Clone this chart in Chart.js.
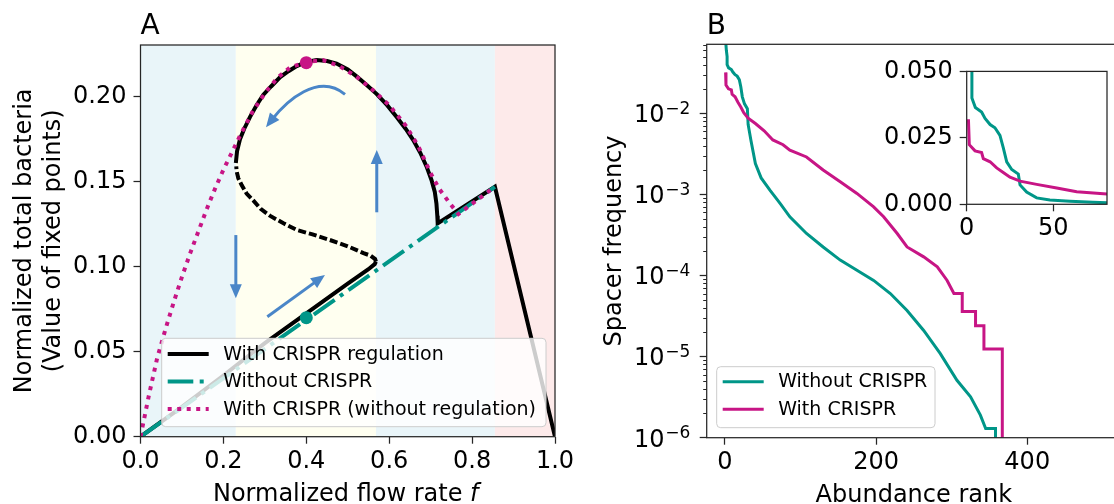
<!DOCTYPE html>
<html>
<head>
<meta charset="utf-8">
<script src="https://cdn.jsdelivr.net/npm/chart.js@4.4.1/dist/chart.umd.min.js"></script>
<style>
  html, body { margin: 0; padding: 0; background: #fff; overflow: hidden; width: 1114px; height: 504px; }
  canvas { position: absolute; }
  #chartA { left: 0; top: 0; width: 580px; height: 504px; }
  #chartB { left: 580px; top: 0; width: 545px; height: 504px; }
  #chartInset { left: 870px; top: 50px; width: 244px; height: 200px; }
</style>
</head>
<body>
<canvas id="chartA" width="580" height="504"></canvas>
<canvas id="chartB" width="545" height="504"></canvas>
<canvas id="chartInset" width="244" height="200"></canvas>
<script>
// ---------- Panel A: fixed points vs flow rate ----------
const bandEdges = [0, 0.23, 0.568, 0.855, 1.0];
const bandColors = ['#e9f5f9', '#fffff0', '#e9f5f9', '#fdeaea'];

// stable lower branch (with regulation)
const lowerF = [0, 0.1, 0.2, 0.3, 0.4, 0.5, 0.55, 0.565, 0.568];
const lowerV = [0, 0.0175, 0.036, 0.055, 0.0725, 0.090, 0.0985, 0.1015, 0.103];

// unstable middle branch (dashed)
const unstableF = [0.568, 0.566, 0.555, 0.538, 0.500, 0.457, 0.415, 0.377, 0.345, 0.312, 0.290, 0.272, 0.256, 0.244, 0.236, 0.232, 0.231];
const unstableV = [0.103, 0.1045, 0.1065, 0.108, 0.112, 0.1157, 0.119, 0.1216, 0.1255, 0.130, 0.134, 0.139, 0.143, 0.148, 0.152, 0.156, 0.159];

// stable upper branch, then washout
const upperF = [0.230, 0.233, 0.240, 0.250, 0.264, 0.280, 0.296, 0.315, 0.337, 0.357, 0.377, 0.400, 0.425, 0.450, 0.473, 0.500, 0.522, 0.545, 0.570, 0.595, 0.618, 0.640, 0.658, 0.675, 0.690, 0.702, 0.710, 0.714, 0.716, 0.717, 0.855, 1.0];
const upperV = [0.161, 0.168, 0.175, 0.181, 0.188, 0.195, 0.201, 0.206, 0.2115, 0.215, 0.218, 0.2205, 0.2215, 0.221, 0.2195, 0.216, 0.2118, 0.207, 0.2015, 0.195, 0.188, 0.181, 0.1745, 0.167, 0.159, 0.151, 0.144, 0.137, 0.130, 0.1255, 0.147, 0];

// without CRISPR
const noCrisprF = [0, 0.855];
const noCrisprV = [0, 0.147];

// with CRISPR, no regulation
const noRegF = [0, 0.02, 0.04, 0.06, 0.08, 0.10, 0.12, 0.14, 0.16, 0.18, 0.20, 0.22, 0.24, 0.27, 0.30, 0.33, 0.36, 0.40, 0.44, 0.48, 0.52, 0.56, 0.60, 0.64, 0.67, 0.70, 0.72, 0.747, 0.767, 0.80, 0.855];
const noRegV = [0, 0.024, 0.046, 0.063, 0.079, 0.094, 0.108, 0.121, 0.134, 0.146, 0.157, 0.167, 0.177, 0.191, 0.202, 0.211, 0.217, 0.2205, 0.2215, 0.218, 0.212, 0.204, 0.195, 0.183, 0.171, 0.155, 0.146, 0.137, 0.131, 0.137, 0.147];

const fixedF = [0.40, 0.40];
const fixedV = [0.220, 0.070];

// blue flow arrows (data coordinates)
const arrows = [
  { from: [0.57, 0.132], to: [0.57, 0.1686] },
  { from: [0.23, 0.1186], to: [0.23, 0.0814] },
  { from: [0.306, 0.0706], to: [0.445, 0.0951] },
  { from: [0.4934, 0.2014], c1: [0.4282, 0.2145], c2: [0.3517, 0.1972], to: [0.3028, 0.182] }
];

// ---------- Panel B: rank abundance ----------
const rankNo = [0, 1, 2, 3, 3, 5, 8.6, 10.6, 13.5, 16.3, 19.2, 21.1, 23.1, 26, 29.8, 30.8, 34.6, 40.4, 48, 59.6, 72.8, 86, 108, 130, 152.6, 174.7, 196.8, 218.9, 241, 263, 285, 307, 325, 338, 345, 358, 358];
const freqNo = [0.12, 0.08, 0.06, 0.05, 0.040, 0.0364, 0.0347, 0.0323, 0.030, 0.0288, 0.0259, 0.0213, 0.016, 0.0131, 0.0114, 0.0073, 0.0046, 0.0024, 0.0016, 0.00113, 0.00078, 0.00053, 0.00033, 0.000225, 0.000155, 0.000116, 8.7e-5, 6e-5, 3.7e-5, 2.1e-5, 1.09e-5, 5.1e-6, 3.2e-6, 1.9e-6, 1.3e-6, 1.3e-6, 1e-7];

const rankWith = [1, 1.5, 4.8, 8.6, 9.6, 13.5, 17.3, 21.1, 25, 30.8, 40.4, 52, 63.5, 77, 86, 108, 130, 152.6, 174.7, 196.8, 210, 228, 241, 263, 281, 294, 303, 314, 314, 331.6, 331.6, 342.7, 342.7, 367, 367];
const freqWith = [0.032, 0.0224, 0.0201, 0.0195, 0.0172, 0.016, 0.0137, 0.012, 0.0102, 0.0087, 0.0075, 0.0061, 0.0047, 0.0041, 0.00352, 0.0029, 0.002, 0.00143, 0.00103, 0.000703, 0.00053, 0.00033, 0.000225, 0.00017, 0.000128, 8.7e-5, 6e-5, 6e-5, 3.6e-5, 3.6e-5, 2.4e-5, 2.4e-5, 1.24e-5, 1.24e-5, 1e-7];

const logExponents = [-6, -5, -4, -3, -2];

const TEAL = '#009688';
const MAGENTA = '#c71585';
const ARROW = '#4a86c8';
const AXIS = '#262626';
const FONT = '"DejaVu Sans"';

function pts(xs, ys) {
  return xs.map((x, i) => ({ x: x, y: ys[i] }));
}

function line(data, color, width, dash, order) {
  return { data: data, showLine: true, borderColor: color, backgroundColor: color, borderWidth: width,
           borderDash: dash || [], pointRadius: 0, tension: 0, clip: 0, order: order };
}

function axisOpts(extra) {
  return Object.assign({
    type: 'linear',
    border: { display: false },
    grid: { drawOnChartArea: false, drawTicks: true, tickLength: 7, tickColor: AXIS, tickWidth: 1.25 },
    ticks: { color: '#000', font: { family: FONT, size: 24 }, includeBounds: false }
  }, extra);
}

const framePlugin = {
  id: 'frame',
  afterDatasetsDraw(chart) {
    const { ctx, chartArea: a } = chart;
    ctx.save();
    ctx.strokeStyle = AXIS;
    ctx.lineWidth = 1.25;
    ctx.strokeRect(a.left, a.top, a.right - a.left, a.bottom - a.top);
    ctx.restore();
  }
};

function drawLegend(ctx, box, items) {
  ctx.save();
  ctx.beginPath();
  ctx.roundRect(box.x, box.y, box.w, box.h, 4);
  ctx.fillStyle = 'rgba(255,255,255,0.8)';
  ctx.fill();
  ctx.strokeStyle = '#cccccc';
  ctx.lineWidth = 1;
  ctx.stroke();
  items.forEach((it, i) => {
    const y = box.y + box.first + i * box.step;
    ctx.beginPath();
    ctx.setLineDash(it.dash || []);
    ctx.lineWidth = it.width;
    ctx.strokeStyle = it.color;
    ctx.moveTo(box.x + 6, y);
    ctx.lineTo(box.x + 47, y);
    ctx.stroke();
    ctx.setLineDash([]);
    ctx.fillStyle = '#000';
    ctx.font = '19px ' + FONT;
    ctx.textBaseline = 'alphabetic';
    ctx.fillText(it.label, box.x + 61.5, y + 5.5);
  });
  ctx.restore();
}

function rotatedText(ctx, text, x, y) {
  ctx.save();
  ctx.translate(x, y);
  ctx.rotate(-Math.PI / 2);
  ctx.font = '24px ' + FONT;
  ctx.fillStyle = '#000';
  ctx.textAlign = 'center';
  ctx.textBaseline = 'alphabetic';
  ctx.fillText(text, 0, 0);
  ctx.restore();
}

function drawArrowHead(ctx, tip, dx, dy) {
  const len = Math.hypot(dx, dy);
  const ux = dx / len, uy = dy / len;
  const L = 14, W = 6;
  ctx.beginPath();
  ctx.moveTo(tip.x, tip.y);
  ctx.lineTo(tip.x - ux * L - uy * W, tip.y - uy * L + ux * W);
  ctx.lineTo(tip.x - ux * L + uy * W, tip.y - uy * L - ux * W);
  ctx.closePath();
  ctx.fill();
}

const panelAPlugin = {
  id: 'panelA',
  beforeDatasetsDraw(chart) {
    const { ctx, chartArea: a, scales: { x, y } } = chart;
    ctx.save();
    // coloured regions
    for (let i = 0; i < bandColors.length; i++) {
      const x0 = x.getPixelForValue(bandEdges[i]);
      const x1 = x.getPixelForValue(bandEdges[i + 1]);
      ctx.fillStyle = bandColors[i];
      ctx.fillRect(x0, a.top, x1 - x0, a.bottom - a.top);
    }
    // flow arrows
    ctx.strokeStyle = ARROW;
    ctx.fillStyle = ARROW;
    ctx.lineWidth = 3;
    arrows.forEach(ar => {
      const p0 = { x: x.getPixelForValue(ar.from[0]), y: y.getPixelForValue(ar.from[1]) };
      const p1 = { x: x.getPixelForValue(ar.to[0]), y: y.getPixelForValue(ar.to[1]) };
      ctx.beginPath();
      ctx.moveTo(p0.x, p0.y);
      let dir;
      if (ar.c1) {
        const c1 = { x: x.getPixelForValue(ar.c1[0]), y: y.getPixelForValue(ar.c1[1]) };
        const c2 = { x: x.getPixelForValue(ar.c2[0]), y: y.getPixelForValue(ar.c2[1]) };
        const ux = p1.x - c2.x, uy = p1.y - c2.y, ul = Math.hypot(ux, uy);
        ctx.bezierCurveTo(c1.x, c1.y, c2.x, c2.y, p1.x - ux / ul * 10, p1.y - uy / ul * 10);
        dir = [ux, uy];
      } else {
        const ux = p1.x - p0.x, uy = p1.y - p0.y, ul = Math.hypot(ux, uy);
        ctx.lineTo(p1.x - ux / ul * 10, p1.y - uy / ul * 10);
        dir = [ux, uy];
      }
      ctx.stroke();
      drawArrowHead(ctx, p1, dir[0], dir[1]);
    });
    ctx.restore();
  },
  afterDraw(chart) {
    const { ctx, chartArea: a } = chart;
    ctx.save();
    ctx.fillStyle = '#000';
    ctx.font = '28px ' + FONT;
    ctx.textBaseline = 'alphabetic';
    ctx.fillText('A', a.left, 33.5);
    // x title with italic f
    ctx.font = '24px ' + FONT;
    const t1 = 'Normalized flow rate ';
    const w1 = ctx.measureText(t1).width;
    ctx.font = 'italic 24px ' + FONT;
    const w2 = ctx.measureText('f').width;
    const sx = (a.left + a.right) / 2 - (w1 + w2) / 2 - 2;
    ctx.font = '24px ' + FONT;
    ctx.fillText(t1, sx, 501);
    ctx.font = 'italic 24px ' + FONT;
    ctx.fillText('f', sx + w1, 501);
    ctx.restore();
    const cy = (a.top + a.bottom) / 2;
    rotatedText(ctx, 'Normalized total bacteria', 30.8, cy);
    rotatedText(ctx, '(Value of fixed points)', 60, cy);
    drawLegend(ctx, { x: 161.7, y: 338.3, w: 384.3, h: 88.4, first: 15.7, step: 27.5 }, [
      { label: 'With CRISPR regulation', color: '#000', width: 4 },
      { label: 'Without CRISPR', color: TEAL, width: 4, dash: [25.6, 6.4, 4, 6.4] },
      { label: 'With CRISPR (without regulation)', color: MAGENTA, width: 4, dash: [4, 5.5] }
    ]);
  }
};

new Chart(document.getElementById('chartA'), {
  type: 'scatter',
  data: {
    datasets: [
      line(pts(lowerF, lowerV), '#000', 4, null, 5),
      line(pts(unstableF, unstableV), '#000', 4, [8, 3], 5),
      line(pts(upperF, upperV), '#000', 4, null, 5),
      line(pts(noCrisprF, noCrisprV), TEAL, 4, [25.6, 6.4, 4, 6.4], 4),
      line(pts(noRegF, noRegV), MAGENTA, 4, [4, 5.5], 3),
      { data: pts(fixedF, fixedV), pointRadius: 6.5, pointBorderWidth: 0,
        pointBackgroundColor: [MAGENTA, TEAL], showLine: false, clip: false, order: 1 }
    ]
  },
  options: {
    responsive: false,
    animation: false,
    events: [],
    layout: { padding: { top: 45, right: 25, left: 0, bottom: 0 } },
    plugins: { legend: { display: false }, tooltip: { enabled: false } },
    scales: {
      x: axisOpts({
        min: 0, max: 1,
        ticks: { color: '#000', font: { family: FONT, size: 24 }, includeBounds: false, stepSize: 0.2, padding: 4,
                 maxRotation: 0, callback: v => v.toFixed(1) },
        afterFit: s => { s.height = 67.3; }
      }),
      y: axisOpts({
        min: 0, max: 0.2304,
        ticks: { color: '#000', font: { family: FONT, size: 24 }, includeBounds: false, stepSize: 0.05, padding: 7,
                 callback: v => v.toFixed(2) },
        afterFit: s => { s.width = 140.5; }
      })
    }
  },
  plugins: [panelAPlugin, framePlugin]
});

// ---------- Panel B ----------
const panelBPlugin = {
  id: 'panelB',
  afterDraw(chart) {
    const { ctx, chartArea: a, scales: { y } } = chart;
    ctx.save();
    // minor log ticks
    ctx.strokeStyle = AXIS;
    ctx.lineWidth = 1;
    logExponents.forEach(k => {
      for (let m = 2; m <= 9; m++) {
        const v = m * Math.pow(10, k);
        if (v > y.max) break;
        const py = Math.round(y.getPixelForValue(v)) + 0.5;
        ctx.beginPath();
        ctx.moveTo(a.left - 3.5, py);
        ctx.lineTo(a.left, py);
        ctx.stroke();
      }
    });
    // 10^k labels
    ctx.fillStyle = '#000';
    ctx.textAlign = 'right';
    ctx.textBaseline = 'alphabetic';
    logExponents.forEach(k => {
      const py = y.getPixelForValue(Math.pow(10, k));
      const right = a.left - 16.5;
      ctx.font = '17px ' + FONT;
      const sup = '\u2212' + Math.abs(k);
      const ws = ctx.measureText(sup).width;
      ctx.fillText(sup, right, py + 0.5);
      ctx.font = '24px ' + FONT;
      ctx.fillText('10', right - ws - 0.5, py + 8.8);
    });
    ctx.font = '28px ' + FONT;
    ctx.textAlign = 'left';
    ctx.fillText('B', a.left, 33.5);
    ctx.font = '24px ' + FONT;
    ctx.textAlign = 'center';
    ctx.fillText('Abundance rank', (a.left + a.right) / 2, 501.8);
    ctx.restore();
    rotatedText(ctx, 'Spacer frequency', 40.8, (a.top + a.bottom) / 2);
    drawLegend(ctx, { x: 136.7, y: 366.7, w: 218.3, h: 61, first: 15, step: 27.6 }, [
      { label: 'Without CRISPR', color: TEAL, width: 3 },
      { label: 'With CRISPR', color: MAGENTA, width: 3 }
    ]);
  }
};

new Chart(document.getElementById('chartB'), {
  type: 'scatter',
  data: {
    datasets: [
      line(pts(rankNo, freqNo), TEAL, 3, null, 2),
      line(pts(rankWith, freqWith), MAGENTA, 3, null, 1)
    ]
  },
  options: {
    responsive: false,
    animation: false,
    events: [],
    layout: { padding: { top: 44.3, right: 4, left: 0, bottom: 0 } },
    plugins: { legend: { display: false }, tooltip: { enabled: false } },
    scales: {
      x: axisOpts({
        min: -24, max: 524,
        ticks: { color: '#000', font: { family: FONT, size: 24 }, includeBounds: false, stepSize: 200, padding: 4, maxRotation: 0 },
        afterFit: s => { s.height = 66.3; }
      }),
      y: axisOpts({
        type: 'logarithmic',
        min: 1e-6, max: 0.0711,
        ticks: { display: false },
        afterBuildTicks: s => { s.ticks = logExponents.map(k => ({ value: Math.pow(10, k) })); },
        afterFit: s => { s.width = 126.7; }
      })
    }
  },
  plugins: [panelBPlugin, framePlugin]
});

// ---------- Inset ----------
const insetPlugin = {
  id: 'insetBg',
  beforeDatasetsDraw(chart) {
    const { ctx, chartArea: a } = chart;
    ctx.save();
    ctx.fillStyle = '#fff';
    ctx.fillRect(a.left, a.top, a.right - a.left, a.bottom - a.top);
    ctx.restore();
  }
};

new Chart(document.getElementById('chartInset'), {
  type: 'scatter',
  data: {
    datasets: [
      line(pts(rankNo, freqNo), TEAL, 3, null, 2),
      line(pts(rankWith, freqWith), MAGENTA, 3, null, 1)
    ]
  },
  options: {
    responsive: false,
    animation: false,
    events: [],
    layout: { padding: { top: 11, right: 7, left: 0, bottom: 0 } },
    plugins: { legend: { display: false }, tooltip: { enabled: false } },
    scales: {
      x: axisOpts({
        min: 0, max: 81,
        ticks: { color: '#000', font: { family: FONT, size: 24 }, includeBounds: false, stepSize: 50, padding: 3, maxRotation: 0 },
        afterFit: s => { s.height = 45.7; }
      }),
      y: axisOpts({
        min: 0, max: 0.05,
        ticks: { color: '#000', font: { family: FONT, size: 24 }, includeBounds: false, stepSize: 0.025, padding: 7,
                 callback: v => v.toFixed(3) },
        afterFit: s => { s.width = 96.7; }
      })
    }
  },
  plugins: [insetPlugin, framePlugin]
});
</script>
</body>
</html>
